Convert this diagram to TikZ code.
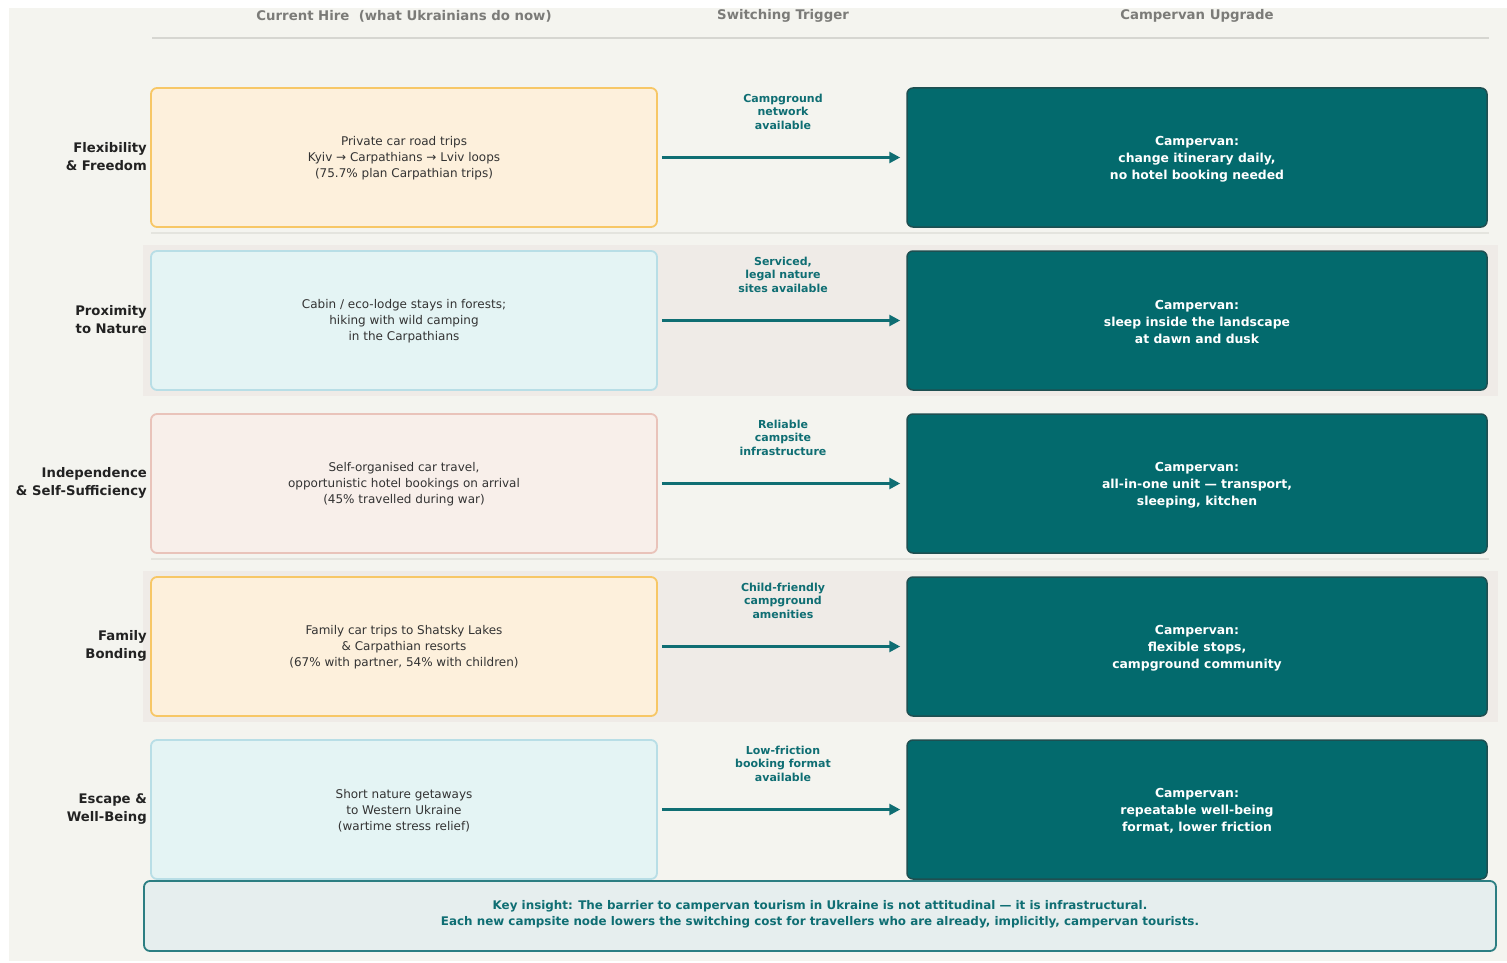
\documentclass[tikz,border=0pt]{standalone}
\usepackage{fontspec}
\setmainfont{DejaVu Sans}
\usetikzlibrary{arrows.meta}
\definecolor{bgc}{HTML}{F4F4EF}
\definecolor{bandc}{HTML}{EFEBE7}
\definecolor{sepc}{HTML}{E4E4DE}
\definecolor{teal}{HTML}{036A6D}
\definecolor{tealdk}{HTML}{1E4F51}
\definecolor{arrc}{HTML}{0F6E73}
\definecolor{hdrc}{HTML}{7B7B78}
\definecolor{txtc}{HTML}{333333}
\definecolor{lblc}{HTML}{222222}
\definecolor{orfill}{HTML}{FDF0DC}
\definecolor{ordraw}{HTML}{F7C766}
\definecolor{blfill}{HTML}{E4F4F4}
\definecolor{bldraw}{HTML}{B8DEE6}
\definecolor{pkfill}{HTML}{F8EFEA}
\definecolor{pkdraw}{HTML}{E9C3BA}
\definecolor{ftfill}{HTML}{E6EEEE}
\definecolor{ftdraw}{HTML}{2C7E82}
\tikzset{
  x=1pt, y=-1pt,
  leftbox/.style={rounded corners=6pt, line width=1.8pt, minimum width=506pt, minimum height=139pt, align=center, text=txtc, font=\fontsize{12}{16}\selectfont, inner sep=0pt},
  orbox/.style={leftbox, fill=orfill, draw=ordraw},
  blbox/.style={leftbox, fill=blfill, draw=bldraw},
  pkbox/.style={leftbox, fill=pkfill, draw=pkdraw},
  rightbox/.style={rounded corners=6pt, line width=1.5pt, fill=teal, draw=tealdk, minimum width=580pt, minimum height=139pt, align=center, text=white, font=\fontsize{12.4}{17}\bfseries\selectfont, inner sep=0pt},
  lefttxt/.style={align=center, text=txtc, font=\fontsize{12}{16}\selectfont, inner sep=0pt},
  righttxt/.style={align=center, text=white, font=\fontsize{12.4}{17}\bfseries\selectfont, inner sep=0pt},
  rowlabel/.style={anchor=east, align=right, text=lblc, font=\fontsize{13.2}{18}\bfseries\selectfont, inner sep=0pt},
  trig/.style={anchor=north, align=center, text=arrc, font=\fontsize{11}{13.5}\bfseries\selectfont, inner sep=0pt},
  hdr/.style={text=hdrc, font=\fontsize{13.3}{15}\bfseries\selectfont, inner sep=0pt},
  arr/.style={draw=arrc, line width=2.6pt, -{Triangle[length=11pt,width=11pt]}, shorten <=4pt, shorten >=6pt},
  sep/.style={draw=sepc, line width=1.5pt},
}
\begin{document}
\begin{tikzpicture}
\useasboundingbox (0,0) rectangle (1507,963);
\fill[white] (0,0) rectangle (1507,963);
\fill[bgc] (9,8) rectangle (1507,961);
% header
\node[hdr] (h1) at (404,16) {Current Hire\ \ (what Ukrainians do now)};
\node[hdr] (h2) at (783,16) {Switching Trigger};
\node[hdr] (h3) at (1197,16) {Campervan Upgrade};
\draw[draw=sepc!94!black, line width=2pt] (152,38) -- (1489,38);
% bands
\fill[bandc] (143,245) rectangle (1498,396);
\fill[bandc] (143,571) rectangle (1498,722);
\draw[sep] (151,233) -- (1489,233);
\draw[sep] (151,559) -- (1489,559);
% row 1
\node[orbox] (L1) at (404,157.5) {};
\node[lefttxt] at (404,158.5) {Private car road trips\\Kyiv → Carpathians → Lviv loops\\(75.7\% plan Carpathian trips)};
\node[rightbox] (R1) at (1197,157.5) {};
\node[righttxt] at (1197,159) {Campervan:\\change itinerary daily,\\no hotel booking needed};
\node[rowlabel] (N1) at (147,157) {Flexibility\\\& Freedom};
\node[trig] (T1) at (783,93.5) {Campground\\network\\available};
\draw[arr] (L1.east) -- (R1.west);
% row 2
\node[blbox] (L2) at (404,320.5) {};
\node[lefttxt] at (404,321.5) {Cabin / eco-lodge stays in forests;\\hiking with wild camping\\in the Carpathians};
\node[rightbox] (R2) at (1197,320.5) {};
\node[righttxt] at (1197,322) {Campervan:\\sleep inside the landscape\\at dawn and dusk};
\node[rowlabel] (N2) at (147,320) {Proximity\\to Nature};
\node[trig] (T2) at (783,256.5) {Serviced,\\legal nature\\sites available};
\draw[arr] (L2.east) -- (R2.west);
% row 3
\node[pkbox] (L3) at (404,483.5) {};
\node[lefttxt] at (404,484.5) {Self-organised car travel,\\opportunistic hotel bookings on arrival\\(45\% travelled during war)};
\node[rightbox] (R3) at (1197,483.5) {};
\node[righttxt] at (1197,485) {Campervan:\\all-in-one unit — transport,\\sleeping, kitchen};
\node[rowlabel] (N3) at (147,483) {Independence\\\& Self-Sufficiency};
\node[trig] (T3) at (783,419.5) {Reliable\\campsite\\infrastructure};
\draw[arr] (L3.east) -- (R3.west);
% row 4
\node[orbox] (L4) at (404,646.5) {};
\node[lefttxt] at (404,647.5) {Family car trips to Shatsky Lakes\\\& Carpathian resorts\\(67\% with partner, 54\% with children)};
\node[rightbox] (R4) at (1197,646.5) {};
\node[righttxt] at (1197,648) {Campervan:\\flexible stops,\\campground community};
\node[rowlabel] (N4) at (147,646) {Family\\Bonding};
\node[trig] (T4) at (783,582.5) {Child-friendly\\campground\\amenities};
\draw[arr] (L4.east) -- (R4.west);
% row 5
\node[blbox] (L5) at (404,809.5) {};
\node[lefttxt] at (404,810.5) {Short nature getaways\\to Western Ukraine\\(wartime stress relief)};
\node[rightbox] (R5) at (1197,809.5) {};
\node[righttxt] at (1197,811) {Campervan:\\repeatable well-being\\format, lower friction};
\node[rowlabel] (N5) at (147,809) {Escape \&\\Well-Being};
\node[trig] (T5) at (783,745.5) {Low-friction\\booking format\\available};
\draw[arr] (L5.east) -- (R5.west);
% footer
\node[rounded corners=6pt, line width=1.8pt, fill=ftfill, draw=ftdraw, minimum width=1352pt, minimum height=70pt, inner sep=0pt] (F) at (820,916) {};
\node[align=center, text=arrc, font=\fontsize{11.9}{16}\bfseries\selectfont, inner sep=0pt] (FT) at (820,914) {Key insight: The barrier to campervan tourism in Ukraine is not attitudinal — it is infrastructural.\\Each new campsite node lowers the switching cost for travellers who are already, implicitly, campervan tourists.};
\end{tikzpicture}
\end{document}
